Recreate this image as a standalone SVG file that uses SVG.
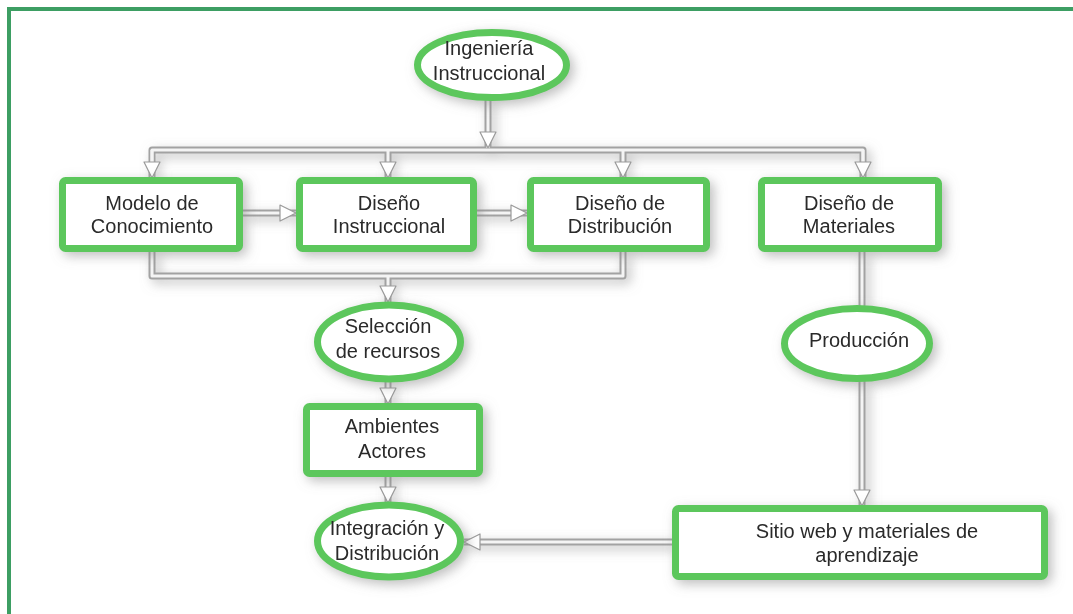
<svg xmlns="http://www.w3.org/2000/svg" width="1073" height="614" viewBox="0 0 1073 614">
<style>
  .frame{fill:none;stroke:#3d9e63;stroke-width:4}
  .node{fill:#ffffff;stroke:#5cc75c;stroke-width:7}
  .sh{filter:url(#shadow)}
  .lbl{font-family:"Liberation Sans",Arial,sans-serif;font-size:20px;fill:#2a2a2a;text-anchor:middle}
  .pipeO{fill:none;stroke:#a2a2a2;stroke-width:7;stroke-linejoin:round}
  .pipeI{fill:none;stroke:#f4f4f4;stroke-width:3;stroke-linejoin:round}
  .arr{marker-end:url(#ah)}
</style>
<defs>
  <filter id="shadow" x="-20%" y="-30%" width="140%" height="170%">
    <feGaussianBlur in="SourceAlpha" stdDeviation="6"/>
    <feOffset dx="4" dy="4" result="b"/>
    <feFlood flood-color="#8a8a8a" flood-opacity="0.55"/>
    <feComposite in2="b" operator="in"/>
    <feMerge><feMergeNode/><feMergeNode in="SourceGraphic"/></feMerge>
  </filter>
  <marker id="ah" viewBox="0 0 18 18" refX="17" refY="9" markerWidth="18" markerHeight="18" markerUnits="userSpaceOnUse" orient="auto">
    <path d="M1,1 L17,9 L1,17 Z" fill="#ffffff" stroke="#9a9a9a" stroke-width="1.2" stroke-linejoin="round"/>
  </marker>
</defs>
<rect width="1073" height="614" fill="#ffffff"/>
<path class="frame" d="M9,614 V9 H1073"/>

<g id="connectors">
  <g class="sh">
    <path class="pipeO" d="M488,99 V148"/>
    <path class="pipeO" d="M152,178 V150 H863 V178"/>
    <path class="pipeO" d="M388,150 V178"/>
    <path class="pipeO" d="M623,150 V178"/>
    <path class="pipeO" d="M243,213 H296"/>
    <path class="pipeO" d="M477,213 H527"/>
    <path class="pipeO" d="M152,252 V276 H623 V252"/>
    <path class="pipeO" d="M388,276 V302"/>
    <path class="pipeO" d="M388,382 V404"/>
    <path class="pipeO" d="M388,477 V503"/>
    <path class="pipeO" d="M862,252 V306"/>
    <path class="pipeO" d="M862,381 V506"/>
    <path class="pipeO" d="M672,542 H464"/>
  </g>
  <path class="pipeI arr" d="M488,99 V148"/>
  <path class="pipeI" d="M152,178 V150 H863 V178"/>
  <path class="pipeI arr" d="M152,150 V178"/>
  <path class="pipeI arr" d="M863,150 V178"/>
  <path class="pipeI arr" d="M388,150 V178"/>
  <path class="pipeI arr" d="M623,150 V178"/>
  <path class="pipeI arr" d="M243,213 H296"/>
  <path class="pipeI arr" d="M477,213 H527"/>
  <path class="pipeI" d="M152,252 V276 H623 V252"/>
  <path class="pipeI arr" d="M388,276 V302"/>
  <path class="pipeI arr" d="M388,382 V404"/>
  <path class="pipeI arr" d="M388,477 V503"/>
  <path class="pipeI" d="M862,252 V306"/>
  <path class="pipeI arr" d="M862,381 V506"/>
  <path class="pipeI arr" d="M672,542 H464"/>
</g>

<g id="n-ingenieria" class="sh">
  <ellipse class="node" cx="492" cy="65" rx="74.5" ry="32.5"/>
  <text class="lbl" x="489" y="55">Ingeniería</text>
  <text class="lbl" x="489" y="80">Instruccional</text>
</g>
<g id="n-modelo" class="sh">
  <rect class="node" x="62.5" y="180.5" width="177" height="68" rx="3"/>
  <text class="lbl" x="152" y="210">Modelo de</text>
  <text class="lbl" x="152" y="233">Conocimiento</text>
</g>
<g id="n-instruccional" class="sh">
  <rect class="node" x="299.5" y="180.5" width="174" height="68" rx="3"/>
  <text class="lbl" x="389" y="210">Diseño</text>
  <text class="lbl" x="389" y="233">Instruccional</text>
</g>
<g id="n-distribucion" class="sh">
  <rect class="node" x="530.5" y="180.5" width="176" height="68" rx="3"/>
  <text class="lbl" x="620" y="210">Diseño de</text>
  <text class="lbl" x="620" y="233">Distribución</text>
</g>
<g id="n-materiales" class="sh">
  <rect class="node" x="761.5" y="180.5" width="177" height="68" rx="3"/>
  <text class="lbl" x="849" y="210">Diseño de</text>
  <text class="lbl" x="849" y="233">Materiales</text>
</g>
<g id="n-seleccion" class="sh">
  <ellipse class="node" cx="389" cy="342" rx="71.5" ry="37"/>
  <text class="lbl" x="388" y="333">Selección</text>
  <text class="lbl" x="388" y="358">de recursos</text>
</g>
<g id="n-ambientes" class="sh">
  <rect class="node" x="306.5" y="406.5" width="173" height="67" rx="3"/>
  <text class="lbl" x="392" y="433">Ambientes</text>
  <text class="lbl" x="392" y="458">Actores</text>
</g>
<g id="n-integracion" class="sh">
  <ellipse class="node" cx="389" cy="541" rx="71.5" ry="36"/>
  <text class="lbl" x="387" y="535">Integración y</text>
  <text class="lbl" x="387" y="560">Distribución</text>
</g>
<g id="n-produccion" class="sh">
  <ellipse class="node" cx="857" cy="343.5" rx="72.5" ry="35"/>
  <text class="lbl" x="859" y="347">Producción</text>
</g>
<g id="n-sitio" class="sh">
  <rect class="node" x="675.5" y="508.5" width="369" height="68" rx="3"/>
  <text class="lbl" x="867" y="538">Sitio web y materiales de</text>
  <text class="lbl" x="867" y="562">aprendizaje</text>
</g>
</svg>
